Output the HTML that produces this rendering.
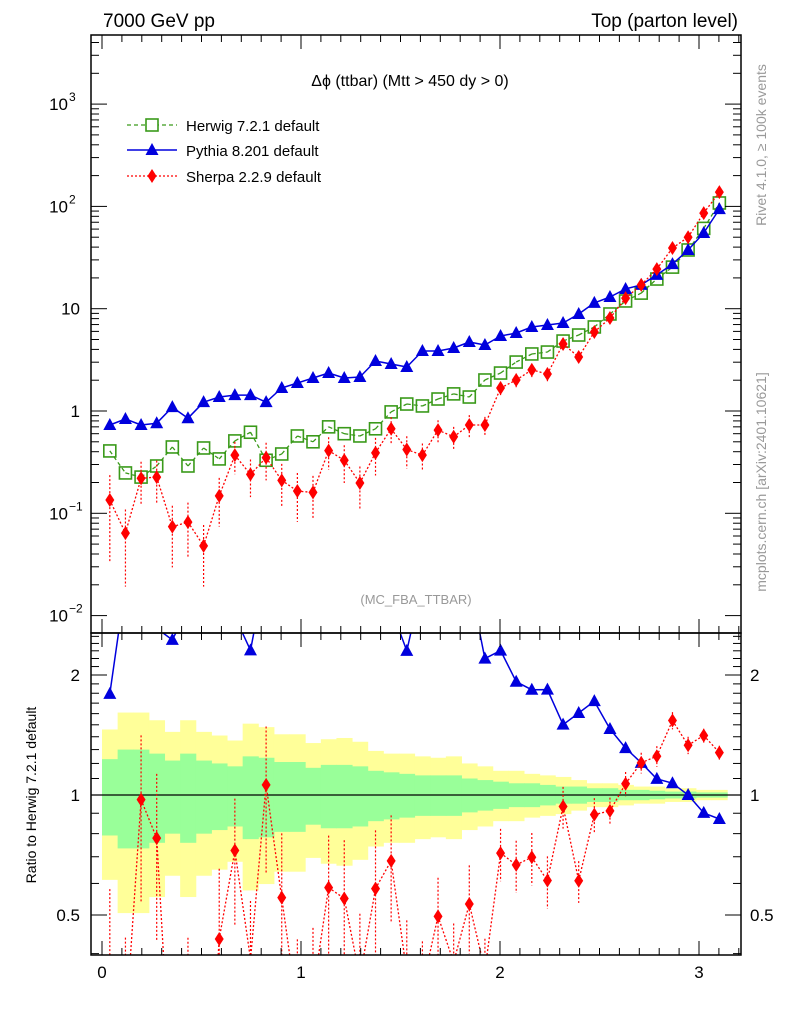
<!DOCTYPE html>
<html><head><meta charset="utf-8"><style>
html,body{margin:0;padding:0;background:#fff;width:786px;height:1024px;overflow:hidden;}
svg{display:block;font-family:"Liberation Sans",Arial,sans-serif;}
</style></head><body>
<svg id="c" width="786" height="1024" viewBox="0 0 786 1024" xmlns="http://www.w3.org/2000/svg">
<text x="103" y="27" font-size="19">7000 GeV pp</text>
<text x="738" y="27" font-size="19" text-anchor="end">Top (parton level)</text>
<text x="410" y="86" font-size="16" text-anchor="middle">Δϕ (ttbar) (Mtt &gt; 450 dy &gt; 0)</text>
<text x="416" y="604" font-size="13" fill="#999" text-anchor="middle">(MC_FBA_TTBAR)</text>
<text transform="translate(766,145) rotate(-90)" font-size="14" fill="#999" text-anchor="middle">Rivet 4.1.0, ≥ 100k events</text>
<text transform="translate(766,482) rotate(-90)" font-size="14" fill="#999" text-anchor="middle">mcplots.cern.ch [arXiv:2401.10621]</text>
<text transform="translate(36,795) rotate(-90)" font-size="14" text-anchor="middle">Ratio to Herwig 7.2.1 default</text>
<g id="legend">
<g><line x1="127" y1="125" x2="177" y2="125" stroke="#3a9a1a" stroke-width="1.3" stroke-dasharray="4,3"/><rect x="146" y="119" width="12" height="12" fill="#fff" stroke="#3a9a1a" stroke-width="1.6"/><text x="186" y="131" font-size="15">Herwig 7.2.1 default</text></g>
<g><line x1="127" y1="150" x2="177" y2="150" stroke="#0000dd" stroke-width="1.5"/><path d="M152,143 L158.5,155 L145.5,155 Z" fill="#0000dd"/><text x="186" y="156" font-size="15">Pythia 8.201 default</text></g>
<g><line x1="127" y1="176" x2="177" y2="176" stroke="#ff0000" stroke-width="1.3" stroke-dasharray="2,2"/><path d="M152,169 L156.5,176 L152,183 L147.5,176 Z" fill="#ff0000"/><text x="186" y="182" font-size="15">Sherpa 2.2.9 default</text></g>
</g>
</svg>
<script>
const herwig=[0.407,0.248,0.226,0.29,0.445,0.29,0.435,0.34,0.51,0.62,0.33,0.38,0.57,0.50,0.70,0.60,0.57,0.67,0.98,1.17,1.12,1.31,1.47,1.37,2.01,2.35,3.01,3.61,3.77,4.83,5.53,6.63,8.88,11.9,14.2,19.5,25.5,37.5,61,108];
const pythia=[0.73,0.835,0.73,0.76,1.09,0.85,1.22,1.37,1.43,1.43,1.22,1.68,1.88,2.10,2.35,2.10,2.15,3.08,2.88,2.69,3.86,3.86,4.13,4.73,4.42,5.41,5.79,6.63,6.93,7.25,8.88,11.4,13.0,15.6,17.1,21.4,27.3,37.5,55,94];
const sherpa=[0.135,0.064,0.22,0.226,0.074,0.082,0.048,0.148,0.37,0.24,0.35,0.21,0.165,0.16,0.41,0.33,0.198,0.39,0.67,0.42,0.37,0.65,0.56,0.73,0.73,1.68,2.01,2.52,2.30,4.52,3.37,5.92,8.1,12.7,17.1,24.4,39.2,50,86,138];
const sherpaErr=[0.75,0.7,0.45,0.45,0.6,0.55,0.6,0.5,0.35,0.4,0.4,0.45,0.5,0.45,0.35,0.4,0.45,0.4,0.3,0.35,0.3,0.25,0.25,0.25,0.2,0.15,0.15,0.15,0.15,0.12,0.12,0.1,0.08,0.07,0.06,0.06,0.05,0.05,0.04,0.04];
const yellowBand=[0.46,0.61,0.61,0.54,0.44,0.54,0.44,0.41,0.37,0.51,0.48,0.42,0.42,0.35,0.38,0.39,0.36,0.29,0.27,0.27,0.25,0.24,0.25,0.20,0.18,0.15,0.15,0.13,0.12,0.11,0.09,0.07,0.07,0.06,0.05,0.05,0.04,0.04,0.03,0.03];
const greenBand=[0.23,0.3,0.3,0.27,0.22,0.27,0.22,0.2,0.18,0.25,0.24,0.21,0.21,0.17,0.19,0.19,0.18,0.15,0.14,0.13,0.12,0.12,0.12,0.1,0.09,0.08,0.07,0.07,0.06,0.05,0.05,0.04,0.04,0.03,0.03,0.025,0.02,0.02,0.015,0.015];
const xTicks=[0,1,2,3];
const mainTicks=[{v:1000,t:"10",e:"3"},{v:100,t:"10",e:"2"},{v:10,t:"10",e:""},{v:1,t:"1",e:""},{v:0.1,t:"10",e:"−1"},{v:0.01,t:"10",e:"−2"}];
const ratioTicks=[{v:2,t:"2"},{v:1,t:"1"},{v:0.5,t:"0.5"}];

const NS="http://www.w3.org/2000/svg";
const svg=document.getElementById('c');
const L=91,R=741,MT=35,MB=633,RT=633,RB=955;
const nb=herwig.length, binW=Math.PI/nb;
const X=v=>102+v*199;
const Y=v=>411-Math.log10(v)*102.3;
const YR=v=>795-Math.log2(v)*120;
const lowB=h=>((1-h)+1/(1+h))/2;
function el(tag,attrs,parent){const e=document.createElementNS(NS,tag);for(const k in attrs)e.setAttribute(k,attrs[k]);(parent||svg).appendChild(e);return e;}

// clip a segment to y range [y0,y1]; returns null or [ax,ay,bx,by]
function clipSeg(ax,ay,bx,by,y0,y1){
  let t0=0,t1=1;const dy=by-ay;
  if(dy===0){if(ay<y0||ay>y1)return null;}
  else{
    let ta=(y0-ay)/dy,tb=(y1-ay)/dy;if(ta>tb){const t=ta;ta=tb;tb=t;}
    t0=Math.max(t0,ta);t1=Math.min(t1,tb);if(t0>t1)return null;
  }
  const dx=bx-ax;return [ax+dx*t0,ay+dy*t0,ax+dx*t1,ay+dy*t1];
}

const gR=el('g',{});


const clampR=y=>Math.min(RB,Math.max(RT,y));
for(let i=0;i<nb;i++){
  const x0=X(i*binW),x1=X((i+1)*binW)+0.5;
  const ya=clampR(YR(1+yellowBand[i])),yb=clampR(YR(lowB(yellowBand[i])));
  const y=el('rect',{x:x0,y:ya,width:x1-x0,height:yb-ya,fill:'#ffff99'},gR);
  
  
}
for(let i=0;i<nb;i++){
  const x0=X(i*binW),x1=X((i+1)*binW)+0.5;
  const ga=clampR(YR(1+greenBand[i])),gb=clampR(YR(lowB(greenBand[i])));
  const g=el('rect',{x:x0,y:ga,width:x1-x0,height:gb-ga,fill:'#99ff99'},gR);
  
  
}
el('line',{x1:L,x2:R,y1:YR(1),y2:YR(1),stroke:'#000','stroke-width':1.2},gR);

function series(vals,yf,parent,color,dash,marker,name,errs,ymin,ymax){
  const g=el('g',{},parent);
  
  
  let d='';
  for(let i=1;i<vals.length;i++){
    const s=clipSeg(X((i-0.5)*binW),yf(vals[i-1]),X((i+0.5)*binW),yf(vals[i]),ymin,ymax);
    if(s)d+=`M${s[0].toFixed(1)},${s[1].toFixed(1)}L${s[2].toFixed(1)},${s[3].toFixed(1)}`;
  }
  const ln=el('path',{d:d,fill:'none',stroke:color,'stroke-width':marker==='tri'?1.5:1.3},g);
  if(dash)ln.setAttribute('stroke-dasharray',dash);
  vals.forEach((v,i)=>{
    const x=X((i+0.5)*binW),y=yf(v);
    if(errs){const e=errs[i];const ya=Math.max(ymin,yf(v*(1+e))),yb=Math.min(ymax,yf(Math.max(v*(1-e),1e-4)));
      if(yb>ya)el('line',{x1:x,x2:x,y1:ya,y2:yb,stroke:color,'stroke-width':1.2,'stroke-dasharray':'2,2'},g);}
    if(y<ymin+2||y>ymax-2)return;
    let m;
    if(marker==='sq')m=el('rect',{x:x-6,y:y-6,width:12,height:12,fill:'#fff','fill-opacity':0,stroke:color,'stroke-width':1.6},g);
    else if(marker==='tri')m=el('path',{d:`M${x},${y-7} L${x+6.5},${y+5} L${x-6.5},${y+5} Z`,fill:color},g);
    else m=el('path',{d:`M${x},${y-7} L${x+4.5},${y} L${x},${y+7} L${x-4.5},${y} Z`,fill:color},g);
    
    
  });
}
series(pythia.map((v,i)=>v/herwig[i]),YR,gR,'#0000dd',null,'tri','pythia-ratio-series',null,RT,RB);
series(sherpa.map((v,i)=>v/herwig[i]),YR,gR,'#ff0000','2,2','dia','sherpa-ratio-series',sherpaErr,RT,RB);

const gM=el('g',{});


series(herwig,Y,gM,'#3a9a1a','4,3','sq','herwig-series',null,MT,MB);
series(pythia,Y,gM,'#0000dd',null,'tri','pythia-series',null,MT,MB);
series(sherpa,Y,gM,'#ff0000','2,2','dia','sherpa-series',sherpaErr,MT,MB);

el('rect',{x:L,y:MT,width:R-L,height:MB-MT,fill:'none',stroke:'#000','stroke-width':1.5});
el('rect',{x:L,y:RT,width:R-L,height:RB-RT,fill:'none',stroke:'#000','stroke-width':1.5});

for(let k=0;k<=32;k++){
  const v=k/10,x=X(v),len=(k%10===0)?14:7;
  [[MT,1],[MB,-1],[RT,1],[RB,-1]].forEach(([y0,s])=>el('line',{x1:x,x2:x,y1:y0,y2:y0+s*len,stroke:'#000','stroke-width':1}));
}
xTicks.forEach(v=>{const t=el('text',{x:X(v),y:978,'font-size':17,'text-anchor':'middle'});t.textContent=v;

});

for(let p=-2;p<=3;p++){for(let m=1;m<=9;m++){const v=m*Math.pow(10,p),y=Y(v);if(y<MT||y>MB)continue;const len=m===1?16:8;
el('line',{x1:L,x2:L+len,y1:y,y2:y,stroke:'#000'});el('line',{x1:R,x2:R-len,y1:y,y2:y,stroke:'#000'});}}
mainTicks.forEach(o=>{const t=el('text',{x:o.e?68:80,y:Y(o.v)+6,'font-size':17,'text-anchor':'end'});t.textContent=o.t;


if(o.e){const s=el('text',{x:69,y:Y(o.v)-3,'font-size':12});s.textContent=o.e;}});

[0.4,0.5,0.6,0.7,0.8,0.9,1,1.1,1.2,1.3,1.4,1.5,1.6,1.7,1.8,1.9,2,2.1,2.2,2.3,2.4,2.5].forEach(v=>{const y=YR(v);if(y<RT||y>RB)return;const maj=(v===0.5||v===1||v===2);const len=maj?16:8;
el('line',{x1:L,x2:L+len,y1:y,y2:y,stroke:'#000'});el('line',{x1:R,x2:R-len,y1:y,y2:y,stroke:'#000'});});
ratioTicks.forEach(o=>{
const t=el('text',{x:80,y:YR(o.v)+6,'font-size':17,'text-anchor':'end'});t.textContent=o.t;


const t2=el('text',{x:750,y:YR(o.v)+6,'font-size':17});t2.textContent=o.t;

});
</script>
</body></html>
